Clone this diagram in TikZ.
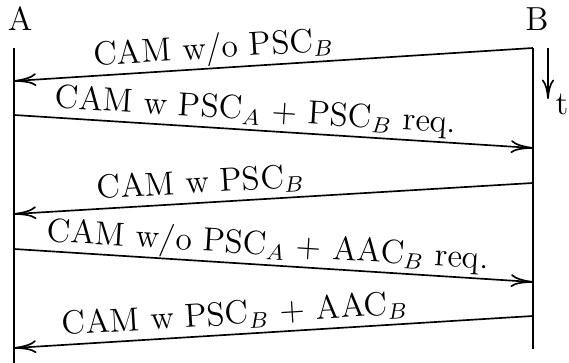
\documentclass[tikz,border=0pt]{standalone}
\usetikzlibrary{arrows.meta}
\begin{document}
\begin{tikzpicture}[x=0.36pt,y=-0.36pt,
  lifeline/.style={line width=0.6pt},
  msg/.style={line width=0.6pt,-{To[length=8pt,width=4.6pt]}},
  msglabel/.style={sloped,anchor=base,yshift=3.6pt,inner sep=0pt,font=\large},
  actor/.style={inner sep=0pt,font=\large}]
\useasboundingbox (0,0) rectangle (569,363);
\node[actor] (A) at (20,19) {A};
\node[actor] (B) at (537,19) {B};
\coordinate (a0) at (14,48);
\coordinate (aE) at (14,363);
\coordinate (b0) at (533,48);
\coordinate (bE) at (533,349);
\draw[lifeline] (a0) -- (aE);
\draw[lifeline] (b0) -- (bE);
\coordinate (a1) at (14,81);
\coordinate (a2) at (14,115);
\coordinate (b2) at (533,148);
\coordinate (b3) at (533,183);
\coordinate (a3) at (14,214);
\coordinate (a4) at (14,249);
\coordinate (b4) at (533,282);
\coordinate (b5) at (533,316);
\coordinate (a5) at (14,348);
\draw[msg] (b0) -- node[msglabel,pos=0.613] {CAM w/o PSC$_B$} (a1);
\draw[msg] (a2) -- node[msglabel,pos=0.464] {CAM w PSC$_A$ + PSC$_B$ req.} (b2);
\draw[msg] (b3) -- node[msglabel,pos=0.638] {CAM w PSC$_B$} (a3);
\draw[msg] (a4) -- node[msglabel,pos=0.487] {CAM w/o PSC$_A$ + AAC$_B$ req.} (b4);
\draw[msg] (b5) -- node[msglabel,pos=0.572] {CAM w PSC$_B$ + AAC$_B$} (a5);
\coordinate (t0) at (548,48);
\coordinate (t1) at (548,99);
\draw[line width=0.6pt,-{To[length=7pt,width=4.4pt]}] (t0) -- (t1);
\node[actor] (t) at (562,104) {t};
\end{tikzpicture}
\end{document}
